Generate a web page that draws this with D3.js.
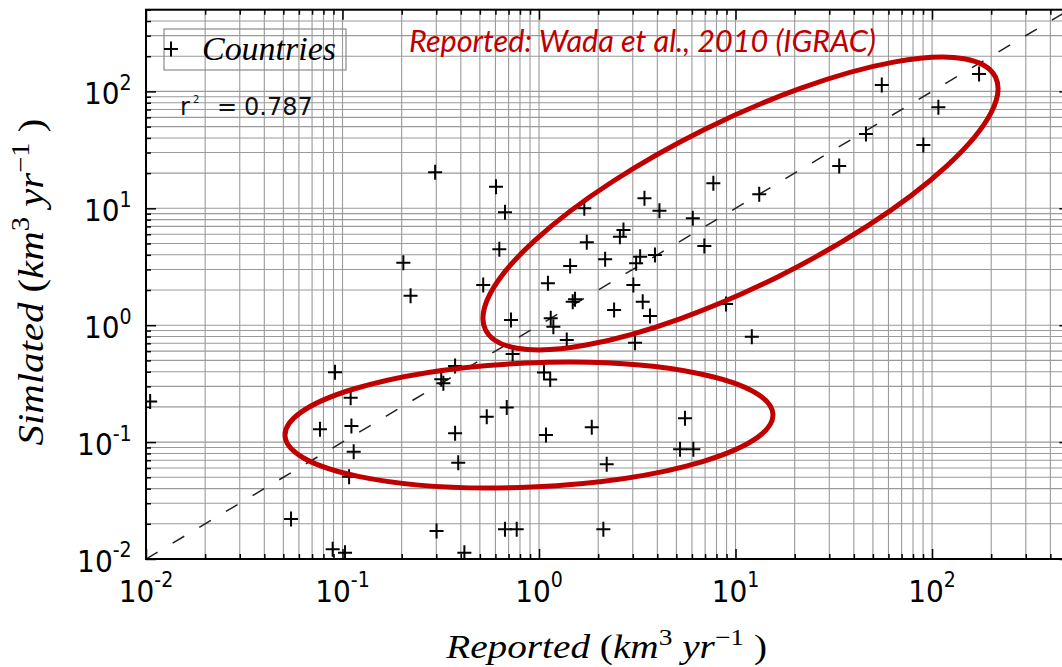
<!DOCTYPE html>
<html><head><meta charset="utf-8">
<script src="https://cdn.jsdelivr.net/npm/d3@7"></script>
<style>body{margin:0;background:#fff;overflow:hidden}</style>
</head><body><svg id="c" width="1062" height="667"></svg>
<script>
// ---- data (km3/yr) ----
const reported = [0.0105,0.0916,0.110,0.0768,0.111,0.114,0.108,0.0547,0.0891,0.103,
  0.734,0.374,0.318,0.326,1.06,1.14,0.542,0.685,0.374,1.085,
  1.855,0.388,2.21,0.301,0.671,0.770,2.125,0.417,1.384,5.53,
  5.22,6.10,0.296,0.604,0.671,0.628,0.204,0.222,0.520,1.70,
  1.75,1.44,1.11,2.17,1.525,1.484,2.41,0.720,1.147,1.183,
  7.71,3.44,4.10,13.2,6.06,2.69,2.58,6.94,3.27,3.12,
  3.89,3.02,3.37,3.67,8.95,12.1,3.08,55.5,173.5,107.7,
  46.1,90.3,33.7];
const simulated = [0.222,0.395,0.240,0.129,0.137,0.0828,0.0506,0.0220,0.0121,0.0113,
  0.568,0.448,0.345,0.318,0.393,0.344,0.165,0.198,0.119,0.115,
  0.134,0.0667,0.0646,0.0174,0.0180,0.0180,0.0180,0.0113,0.746,0.160,
  0.0867,0.0867,20.3,15.3,9.24,4.46,3.43,1.79,2.21,10.0,
  5.12,3.21,2.28,3.66,1.665,1.589,1.35,1.108,1.146,0.970,
  16.4,12.2,9.53,13.2,8.21,6.52,5.71,4.76,3.86,3.38,
  3.99,2.21,1.59,1.20,1.52,0.797,0.708,113.5,140.9,73.1,
  43.2,34.8,23.0];
const majorTicks = [0.01,0.1,1,10,100];
const tickExponents = ["-2","-1","0","1","2"];
const axisDomain = [0.01,500];
const legendLabel = "Countries";
const r2Value = "0.787";
const sourceNote = "Reported: Wada et al., 2010 (IGRAC)";

// ---- layout ----
const svg = d3.select("#c");
svg.append("rect").attr("width",1062).attr("height",667).attr("fill","#fff");
const L=146, T=9.7, B=559, R=1069.4;
const x = d3.scaleLog().domain(axisDomain).range([L,R]);
const y = d3.scaleLog().domain(axisDomain).range([B,T]);
const allX = x.ticks(), allY = y.ticks();
const minorX = allX.filter(v=>!majorTicks.includes(v));
const minorY = allY.filter(v=>!majorTicks.includes(v));

svg.append("clipPath").attr("id","pc").append("rect")
  .attr("x",L).attr("y",T).attr("width",R-L).attr("height",B-T);

// grid
const grid = svg.append("g").attr("stroke","#9a9a9a").attr("stroke-width",1.1);
grid.selectAll(".gx").data(allX).join("line")
  .attr("x1",d=>x(d)).attr("x2",d=>x(d)).attr("y1",T).attr("y2",B);
grid.selectAll(".gy").data(allY).join("line")
  .attr("y1",d=>y(d)).attr("y2",d=>y(d)).attr("x1",L).attr("x2",R);

// ticks (inward on all four sides)
function tickAxis(axisFn, scale, vals, size, tr){
  const g = svg.append("g").attr("transform",tr)
    .call(axisFn(scale).tickValues(vals).tickSize(-size).tickFormat(""));
  g.select(".domain").remove();
  g.selectAll(".tick line").attr("stroke","#000").attr("stroke-width",1.5);
}
tickAxis(d3.axisBottom,x,majorTicks,10,`translate(0,${B})`);
tickAxis(d3.axisBottom,x,minorX,5,`translate(0,${B})`);
tickAxis(d3.axisTop,x,majorTicks,10,`translate(0,${T})`);
tickAxis(d3.axisTop,x,minorX,5,`translate(0,${T})`);
tickAxis(d3.axisLeft,y,majorTicks,10,`translate(${L},0)`);
tickAxis(d3.axisLeft,y,minorY,5,`translate(${L},0)`);
tickAxis(d3.axisRight,y,majorTicks,10,`translate(${R},0)`);
tickAxis(d3.axisRight,y,minorY,5,`translate(${R},0)`);

// 1:1 line
const plot = svg.append("g").attr("clip-path","url(#pc)");
plot.append("line")
  .attr("x1",x(axisDomain[0])).attr("y1",y(axisDomain[0]))
  .attr("x2",x(axisDomain[1])).attr("y2",y(axisDomain[1]))
  .attr("stroke","#222").attr("stroke-width",1.5).attr("stroke-dasharray","13.5,17.5");

// markers
const plus = "M-7,0H7M0,-7.5V7.5";
plot.selectAll(".pt").data(reported.map((r,i)=>[r,simulated[i]])).join("path")
  .attr("d",plus).attr("transform",d=>`translate(${x(d[0])},${y(d[1])})`)
  .attr("stroke","#000").attr("stroke-width",2).attr("fill","none");

// frame
svg.append("rect").attr("x",L).attr("y",T).attr("width",R-L).attr("height",B-T)
  .attr("fill","none").attr("stroke","#000").attr("stroke-width",2);

// rich text helper
function rich(g, parts, size, family, supRaise){
  const t = g.append("text").attr("font-family",family).attr("font-size",size);
  let shift=0;
  parts.forEach(p=>{
    const ts=t.append("tspan").text(p.t);
    if(p.it) ts.attr("font-style","italic");
    const target = p.sup ? -supRaise : 0;
    if(target!==shift){ ts.attr("dy",target-shift); shift=target; }
    if(p.sup) ts.attr("font-size",p.ss||size*0.7);
  });
  return t;
}
function fitted(parts,size,family,supRaise,opts){
  const g = svg.append("g");
  const t = rich(g,parts,size,family,supRaise);
  if(opts.fill) t.attr("fill",opts.fill);
  const bb = t.node().getBBox();
  const sx = opts.width ? opts.width/bb.width : 1;
  const sy = opts.sy||1;
  if(opts.rotate){
    g.attr("transform",`translate(${opts.x},${opts.y}) rotate(-90) scale(${sx},${sy}) translate(${-bb.x-bb.width/2},0)`);
  } else if(opts.anchor==="middle"){
    g.attr("transform",`translate(${opts.x},${opts.y}) scale(${sx},${sy}) translate(${-bb.x-bb.width/2},0)`);
  } else if(opts.anchor==="end"){
    g.attr("transform",`translate(${opts.x},${opts.y}) scale(${sx},${sy}) translate(${-bb.x-bb.width},0)`);
  } else {
    g.attr("transform",`translate(${opts.x},${opts.y}) scale(${sx},${sy}) translate(${-bb.x},0)`);
  }
  return g;
}

// tick labels
const tf = "DejaVu Sans";
majorTicks.forEach((v,i)=>{
  fitted([{t:"10"},{t:tickExponents[i],sup:true,ss:19}],28,tf,13,{x:x(v),y:601.7,anchor:"middle",sy:1.1});
  fitted([{t:"10"},{t:tickExponents[i],sup:true,ss:19}],28,tf,13,{x:131.7,y:y(v)+12.7,anchor:"end",sy:1.1});
});

// axis titles
const serif = "Liberation Serif";
fitted([{t:"Reported",it:true},{t:" ("},{t:"km",it:true},{t:"3",sup:true},{t:" "},{t:"yr",it:true},{t:"\u22121",sup:true},{t:" )"}],
  33,serif,13,{x:606,y:658,anchor:"middle",width:322});
fitted([{t:"Simlated",it:true},{t:" ("},{t:"km",it:true},{t:"3",sup:true},{t:" "},{t:"yr",it:true},{t:"\u22121",sup:true},{t:" )"}],
  36,serif,14,{x:43,y:282,rotate:true,width:327});

// legend
svg.append("rect").attr("x",164).attr("y",29).attr("width",182).attr("height",41)
  .attr("fill","none").attr("stroke","#8a8a8a").attr("stroke-width",1.2);
svg.append("path").attr("d",plus).attr("transform","translate(171,49)")
  .attr("stroke","#000").attr("stroke-width",2);
fitted([{t:legendLabel,it:true}],33,serif,0,{x:202,y:60,width:134});

// r^2
const r2 = svg.append("g").attr("font-family","DejaVu Sans").attr("fill","#111");
r2.append("text").attr("x",180).attr("y",115).attr("font-size",24).text("r");
r2.append("text").attr("x",193).attr("y",103).attr("font-size",10).text("2");
r2.append("text").attr("x",217).attr("y",115).attr("font-size",24).text("=");
r2.append("text").attr("x",244).attr("y",115).attr("font-size",24).text(r2Value);

// red annotation
const red = "#c00000";
fitted([{t:sourceNote,it:true}],31,"Lato",0,{x:409,y:52,width:467,fill:red});

const ell = svg.append("g").attr("fill","none").attr("stroke",red).attr("stroke-width",5);
// upper cluster ellipse (centre in data space)
ell.append("ellipse").attr("rx",284.6).attr("ry",82.3)
  .attr("transform",`translate(${x(10.6)},${y(11.0)}) rotate(-26.4)`);
// lower cluster ellipse
ell.append("ellipse").attr("rx",244.2).attr("ry",62)
  .attr("transform",`translate(${x(0.889)},${y(0.140)}) rotate(-2.5)`);
</script></body></html>
